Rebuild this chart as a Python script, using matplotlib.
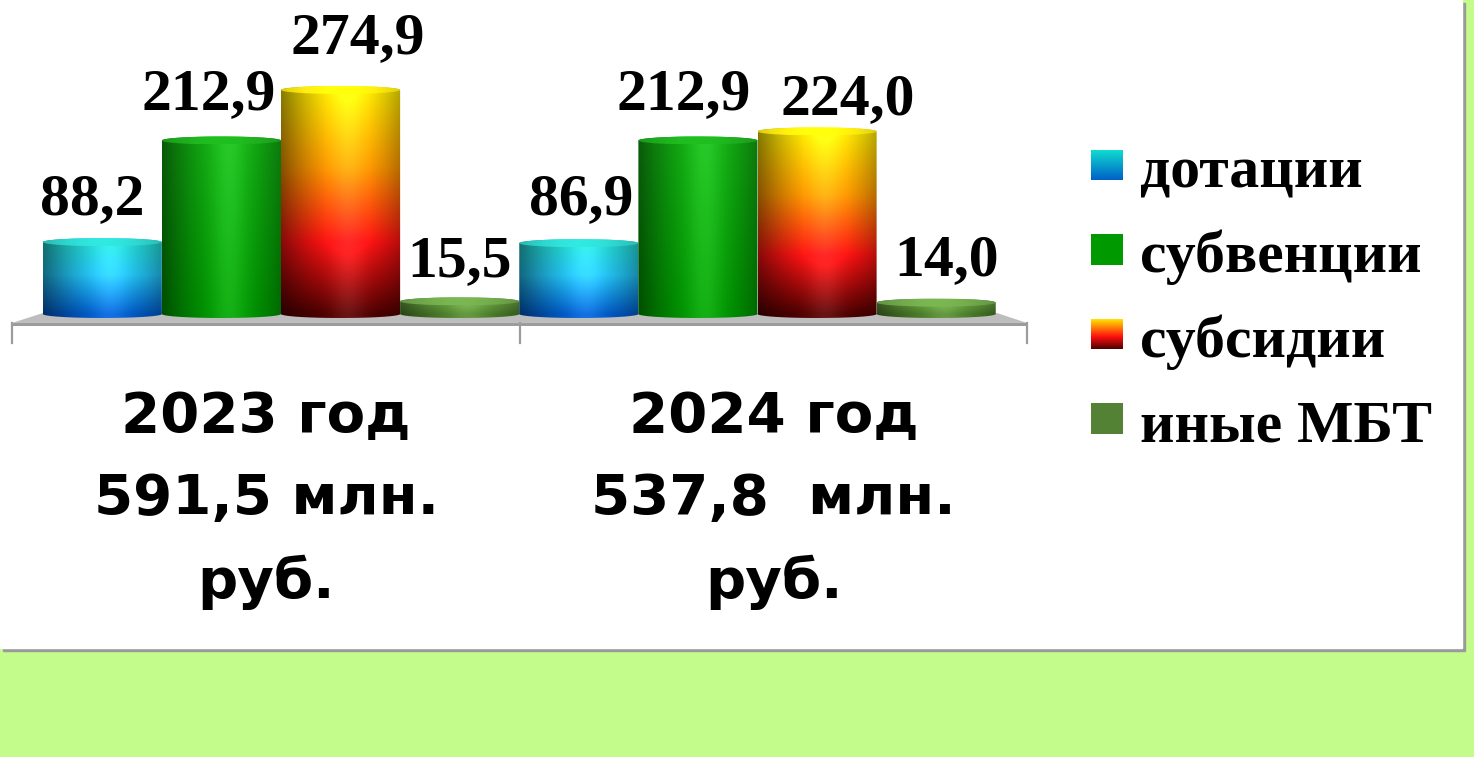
import numpy as np
import matplotlib.pyplot as plt
from matplotlib.patches import Rectangle, Polygon
from matplotlib.path import Path
from matplotlib.colors import to_rgb

# ---- data ----
years = ['2023 год\n591,5 млн.\nруб.', '2024 год\n537,8  млн.\nруб.']
series = ['дотации', 'субвенции', 'субсидии', 'иные МБТ']
values_2023 = [88.2, 212.9, 274.9, 15.5]
values_2024 = [86.9, 212.9, 224.0, 14.0]
labels_2023 = ['88,2', '212,9', '274,9', '15,5']
labels_2024 = ['86,9', '212,9', '224,0', '14,0']

# gradient stops (0 = top of bar, 1 = bottom)
bar_stops = [
    [(0.0, '#22d4cc'), (0.45, '#22c0f0'), (1.0, '#0058c4')],
    [(0.0, '#12ac12'), (1.0, '#009400')],
    [(0.0, '#ffec00'), (0.35, '#ff9800'), (0.68, '#ff1212'), (1.0, '#500000')],
    [(0.0, '#6aa442'), (1.0, '#4c7e2a')],
]
legend_stops = [
    [(0.0, '#10e0d0'), (1.0, '#0060c8')],
    [(0.0, '#009a00'), (1.0, '#009a00')],
    [(0.0, '#ffee00'), (0.6, '#ff1010'), (1.0, '#500000')],
    [(0.0, '#548235'), (1.0, '#548235')],
]

# label placement tweaks (pixels): horizontal shift, gap above bar top
label_dx = [[-10, -13, 17, 0], [2, -14, 31, 10]]
label_gap = [[24, 27, 33, 21], [25, 27, 13, 24]]

W, H = 1474, 757
fig = plt.figure(figsize=(W / 100, H / 100), dpi=100)
fig.patch.set_facecolor('#c3fc8a')


def ramp(stops, t):
    pos = [s[0] for s in stops]
    cols = np.array([to_rgb(s[1]) for s in stops])
    return np.stack([np.interp(t, pos, cols[:, k]) for k in range(3)], axis=-1)


# ---- background: white panel with shadow ----
bg = fig.add_axes([0, 0, 1, 1], zorder=-1)
bg.add_patch(Rectangle((3, 3), 1462, 648, color='#9a9a9a'))
bg.add_patch(Rectangle((0, 0), 1462, 648, color='white'))
bg.set_xlim(0, W)
bg.set_ylim(H, 0)
bg.axis('off')

# ---- bar axes ----
px_per_x, x0_px = 476.5, 281.0
px_per_y, y0_px = 0.815, 314.0
ax_top, ax_bot, ax_right = 0.0, 345.0, 1030.0
ax = fig.add_axes([0, 1 - ax_bot / H, ax_right / W, (ax_bot - ax_top) / H])
xlim = ((0 - x0_px) / px_per_x, (ax_right - x0_px) / px_per_x)
ylim = ((y0_px - ax_bot) / px_per_y, (y0_px - ax_top) / px_per_y)
ax.axis('off')
ax.patch.set_alpha(0)

# floor
ticks = [-0.5645, 0.5016, 1.5656]
ax.add_patch(Polygon([(-0.4995, 1.2), (1.5026, 1.2), (ticks[2], -11.0), (ticks[0], -11.0)],
                     closed=True, facecolor='#bdbdbd', edgecolor='none', zorder=1))
ax.add_patch(Rectangle((ticks[0], -14.7), ticks[2] - ticks[0], 3.7,
                       facecolor='#9c9c9c', edgecolor='none', zorder=1))
for t in ticks:
    ax.plot([t, t], [-11.0, -35.5], color='#9c9c9c', lw=1.6, zorder=1)

bw = 0.25
e = 4.0 / px_per_y  # half height of cylinder ellipse in data units
ang = np.linspace(0, np.pi, 60)


def cylinder(xc, h, stops):
    xl, xr = xc - bw / 2, xc + bw / 2
    nx, ny = 120, 240
    u = np.linspace(0, 1, nx)
    yy = np.linspace(-e, h + e, ny)
    t = np.clip((h - yy) / max(h, 1e-6), 0, 1)
    base = ramp(stops, t)  # (ny, 3)
    shade = 0.58 + 0.47 * np.cos(np.pi * (u - 0.56) * 0.95)
    hi = 0.08 * np.exp(-((u - 0.56) / 0.14) ** 2)
    img = np.clip(base[:, None, :] * shade[None, :, None] + hi[None, :, None], 0, 1)
    im = ax.imshow(img, extent=(xl, xr, -e, h + e), origin='lower',
                   aspect='auto', interpolation='bilinear', zorder=2)
    # silhouette: bottom half ellipse, sides, top half ellipse
    bx = xc - np.cos(ang) * bw / 2
    by = -np.sin(ang) * e
    tx = xc + np.cos(ang) * bw / 2
    ty = h + np.sin(ang) * e
    verts = np.concatenate([np.column_stack([bx, by]), np.column_stack([tx, ty]),
                            [[bx[0], by[0]]]])
    im.set_clip_path(Path(verts, closed=True), ax.transData)
    # top face
    top = ramp(stops, np.zeros(1))[0]
    shade2 = 0.82 + 0.22 * np.cos(np.pi * (u - 0.5))
    face = np.clip(top[None, None, :] * shade2[None, :, None] + 0.05, 0, 1)
    face = np.repeat(face, 20, axis=0)
    im2 = ax.imshow(face, extent=(xl, xr, h - e, h + e), origin='lower',
                    aspect='auto', interpolation='bilinear', zorder=3)
    fx = np.concatenate([xc + np.cos(ang) * bw / 2, xc + np.cos(ang + np.pi) * bw / 2])
    fy = np.concatenate([h + np.sin(ang) * e, h + np.sin(ang + np.pi) * e])
    im2.set_clip_path(Path(np.column_stack([fx, fy]), closed=True), ax.transData)


for g, (vals, labs) in enumerate([(values_2023, labels_2023), (values_2024, labels_2024)]):
    for i, (v, lab) in enumerate(zip(vals, labs)):
        xc = g + (i - 1.5) * bw
        cylinder(xc, v, bar_stops[i])
        ax.text(xc + label_dx[g][i] / px_per_x, v + (4 + label_gap[g][i]) / px_per_y, lab,
                ha='center', va='baseline', fontsize=43,
                family='Liberation Serif', weight='bold', color='black', zorder=5)

for k, lab in enumerate(years):
    xm = (ticks[k] + ticks[k + 1]) / 2
    ax.text(xm, (y0_px - 390) / px_per_y, lab, ha='center', va='top', ma='center',
            fontsize=40.5, family='DejaVu Sans', weight='bold', linespacing=1.66,
            color='black', clip_on=False)

ax.set_xlim(*xlim)
ax.set_ylim(*ylim)

# ---- legend ----
for k, name in enumerate(series):
    yc = 165 + 84.5 * k
    lax = fig.add_axes([1091 / W, 1 - (yc + 15.5) / H, 32 / W, 31 / H])
    grad = ramp(legend_stops[k], np.linspace(0, 1, 60))[:, None, :]
    lax.imshow(grad, aspect='auto', interpolation='bilinear')
    lax.axis('off')
    fig.text(1140 / W, 1 - (187 + 85 * k) / H, name, ha='left', va='baseline',
             fontsize=43, family='Liberation Serif', weight='bold', color='black')

fig.savefig('out.png', dpi=100, facecolor=fig.get_facecolor())
